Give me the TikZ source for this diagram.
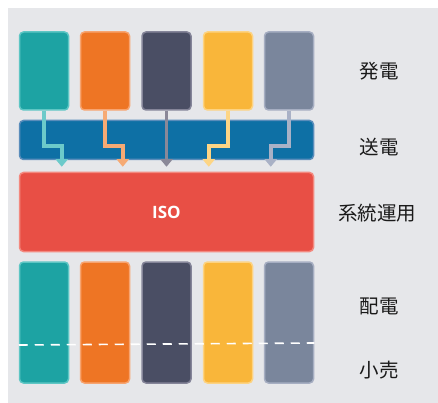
\documentclass[tikz,border=0pt]{standalone}
\usepackage{fontspec}
\setmainfont{Open Sans}
\newfontfamily\jpfont{Noto Sans CJK JP}
\usetikzlibrary{arrows.meta}
\definecolor{bgc}{HTML}{E6E7EA}
\definecolor{cTeal}{HTML}{1DA3A3}\definecolor{cTealL}{HTML}{5EC6C4}\definecolor{cTealA}{HTML}{6CCACA}
\definecolor{cOrg}{HTML}{EE7524}\definecolor{cOrgL}{HTML}{F7A470}\definecolor{cOrgA}{HTML}{F6AA74}
\definecolor{cDark}{HTML}{4A4E64}\definecolor{cDarkL}{HTML}{858599}\definecolor{cDarkA}{HTML}{8A8898}
\definecolor{cYel}{HTML}{F9B63A}\definecolor{cYelL}{HTML}{FDD382}\definecolor{cYelA}{HTML}{FDD585}
\definecolor{cGry}{HTML}{7A869C}\definecolor{cGryL}{HTML}{A6AEC2}\definecolor{cGryA}{HTML}{A9B1C6}
\definecolor{cBlue}{HTML}{0E70A5}\definecolor{cBlueL}{HTML}{5A8DBB}
\definecolor{cRed}{HTML}{E84F45}\definecolor{cRedL}{HTML}{F3897F}
\definecolor{txt}{HTML}{1A1A1A}
\begin{document}
\begin{tikzpicture}[x=1pt,y=-1pt,
  box/.style={rounded corners=4pt, line width=1.5pt, minimum width=49pt, inner sep=0pt},
  gen/.style={box, minimum height=78pt},
  dist/.style={box, minimum height=121pt},
  flow/.style={line width=3.8pt, -{Triangle[width=12pt,length=7.5pt]}, shorten >=5pt},
  lab/.style={font=\jpfont\fontsize{19.5}{20}\selectfont, text=txt}]
\useasboundingbox (0,0) rectangle (438,403);
\fill[bgc] (8,8) rectangle (438,403);
% generation boxes
\node[gen, fill=cTeal, draw=cTealL] (g1) at (44,71) {};
\node[gen, fill=cOrg, draw=cOrgL] (g2) at (105,71) {};
\node[gen, fill=cDark, draw=cDarkL] (g3) at (166.5,71) {};
\node[gen, fill=cYel, draw=cYelL] (g4) at (228,71) {};
\node[gen, fill=cGry, draw=cGryL] (g5) at (289,71) {};
% transmission band
\node[box, fill=cBlue, draw=cBlueL, minimum width=294pt, minimum height=39pt] (tx) at (166.5,140) {};
% ISO
\node[box, fill=cRed, draw=cRedL, minimum width=294pt, minimum height=79pt,
  font=\fontsize{17}{17}\selectfont\bfseries, text=white] (iso) at (166.5,212) {ISO};
% arrows
\draw[flow, cTealA] (g1.south) -- ++(0,35) -| ([xshift=43pt]iso.north west);
\draw[flow, cOrgA] (g2.south) -- ++(0,35) -| ([xshift=104pt]iso.north west);
\draw[flow, cDarkA] (g3.south) -- (iso.north);
\draw[flow, cYelA] (g4.south) -- ++(0,35) -| ([xshift=190pt]iso.north west);
\draw[flow, cGryA] (g5.south) -- ++(0,35) -| ([xshift=252pt]iso.north west);
% distribution / retail boxes
\node[dist, fill=cTeal, draw=cTealL] (d1) at (44,322.5) {};
\node[dist, fill=cOrg, draw=cOrgL] (d2) at (105,322.5) {};
\node[dist, fill=cDark, draw=cDarkL] (d3) at (166.5,322.5) {};
\node[dist, fill=cYel, draw=cYelL] (d4) at (228,322.5) {};
\node[dist, fill=cGry, draw=cGryL] (d5) at (289,322.5) {};
\draw[white, line width=1.6pt, dash pattern=on 9pt off 7pt] (d1.west |- 0,345) -- (d5.east |- 0,343);
% labels
\node[lab] (l1) at (379,71) {発電};
\node[lab] (l2) at (379,147) {送電};
\node[lab] (l3) at (377,213) {系統運用};
\node[lab] (l4) at (379,306) {配電};
\node[lab] (l5) at (379,370) {小売};
\end{tikzpicture}
\end{document}
